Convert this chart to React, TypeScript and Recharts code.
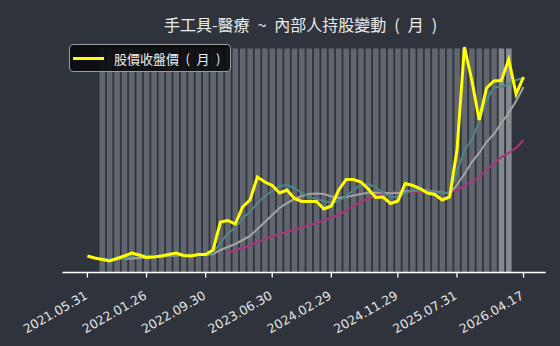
import { ComposedChart, Bar, Line, XAxis, YAxis, Cell, Legend } from 'recharts'

// month index 0 = 2021.05 ... 59 = 2026.04
const tickIdx = [0, 8, 16, 25, 33, 42, 50, 59]
const tickLabels = [
  '2021.05.31',
  '2022.01.26',
  '2022.09.30',
  '2023.06.30',
  '2024.02.29',
  '2024.11.29',
  '2025.07.31',
  '2026.04.17',
]

const closePrice = [
  8.25, 7.25, 6.5, 5.75, 7, 8.25, 9.75, 8.75, 7.5, 7.75,
  8.25, 9, 9.75, 8.5, 8.25, 9, 9, 11.25, 25.25, 26,
  24.25, 32.75, 36.25, 47.75, 45.25, 43.5, 39.75, 41.25, 37, 35.5,
  35.5, 35.5, 31.75, 33.25, 41.25, 46.5, 46.5, 45.25, 41.75, 37.5,
  37.75, 34.5, 35.75, 44.5, 43.5, 42, 39.75, 39, 36.25, 37.75,
  61.25, 112.75, 96.25, 76.25, 92.25, 95.75, 96, 106.5, 89.25, 97.75,
]

const maShort = [
  null, null, 7.25, 6.5, 6.5, 7, 8.25, 8.75, 8.5, 8,
  8, 8.5, 9, 9, 8.75, 8.6, 8.75, 9.75, 14.75, 19.75,
  22.25, 27.25, 30.25, 34.75, 38.25, 40.75, 43.25, 43.75, 42.25, 39.75,
  37.75, 36.75, 35.75, 34.75, 35.75, 38.25, 41.25, 43.75, 44.25, 42.75,
  39.75, 37.75, 37.75, 39.75, 41.25, 41.25, 40.75, 40.25, 39.75, 39.75,
  50.25, 61.25, 66.25, 75.25, 86.25, 92.75, 92.75, 94.25, 96.25, 97.25,
]

const maMid = [
  null, null, null, null, null, 6.75, 7, 7.25, 7.5, 7.75,
  8, 8.25, 8.5, 8.75, 8.75, 8.75, 8.75, 9.25, 11.25, 12.75,
  14.25, 16.25, 18.25, 21.75, 25.25, 28.75, 32.25, 34.75, 36.75, 38.25,
  39.25, 39.5, 39.25, 38, 37.25, 37.75, 38.5, 39.25, 39.85, 39.9,
  39.9, 39.6, 39.75, 40.5, 41, 41.25, 41, 40.5, 40, 39.6,
  43.75, 49.25, 55.25, 59.75, 65.25, 69.25, 74.75, 79.75, 85.75, 92.75,
]

const maLong = [
  null, null, null, null, null, null, null, null, null, null,
  null, null, null, null, null, null, null, null, null, 10,
  11, 12.25, 13.5, 15.25, 16.75, 18, 19.25, 20.25, 21.5, 22.5,
  23.6, 24.75, 26, 27.25, 29, 31, 33.25, 35.25, 37, 38.25,
  39.25, 40, 40.35, 40.4, 40.4, 40.4, 40.25, 40, 39.75, 39.75,
  41.25, 43.25, 45.25, 47.75, 51.25, 54.25, 57.75, 59.75, 62.25, 66.25,
]

const holdBars = [
  null, null, 93.3, 93.3, 93.3, 93.3, 93.3, 93.3, 93.3, 93.3,
  93.3, 93.3, 93.3, 93.3, 93.3, 93.3, 93.3, 93.3, 93.3, 93.3,
  93.3, 93.3, 93.3, 93.3, 93.3, 93.3, 93.3, 93.3, 93.3, 93.3,
  93.3, 93.3, 93.3, 93.3, 93.3, 93.3, 93.3, 93.3, 93.3, 93.3,
  93.3, 93.3, 93.3, 93.3, 93.3, 93.3, 93.3, 93.3, 93.3, 93.3,
  93.3, 93.3, 93.3, 93.3, 93.3, 93.3, 93.3, 93.3, null, null,
]

const data = closePrice.map((p, i) => ({
  i,
  price: p,
  ma3: maShort[i],
  ma6: maMid[i],
  ma20: maLong[i],
  hold: holdBars[i],
}))

const labelOf = (v: number) => tickLabels[tickIdx.indexOf(v)] ?? ''

const DateTick = ({ x, y, payload }: any) => (
  <g transform={`translate(${x + 1},${y + 18.5}) rotate(-30)`}>
    <text
      x={0}
      y={0}
      textAnchor="end"
      fill="#e4e4e4"
      fontSize={12.5}
      fontFamily="DejaVu Sans"
    >
      {labelOf(payload.value)}
    </text>
  </g>
)

const LegendBox = () => (
  <div
    style={{
      width: 162,
      height: 28,
      boxSizing: 'border-box',
      border: '1px solid #9c9c9c',
      borderRadius: 4,
      background: 'rgba(8, 9, 11, 0.88)',
      display: 'flex',
      alignItems: 'center',
    }}
  >
    <div style={{ width: 31, height: 3, background: '#ffff00', marginLeft: 3 }} />
    <span
      style={{
        marginLeft: 10,
        color: '#ececec',
        fontSize: 13,
        fontFamily: '"Noto Sans CJK TC", sans-serif',
        whiteSpace: 'pre',
      }}
    >
      {'股價收盤價\u2002(\u2002月\u2002)'}
    </span>
  </div>
)

export default function App() {
  return (
    <div
      style={{
        position: 'absolute',
        left: 0,
        top: 0,
        width: 560,
        height: 346,
        background: '#2f343c',
      }}
    >
      <div
        style={{
          position: 'absolute',
          left: 300.5,
          top: 12,
          transform: 'translateX(-50%)',
          whiteSpace: 'pre',
          color: '#ececec',
          fontSize: 16,
          fontFamily: '"Noto Sans CJK TC", sans-serif',
        }}
      >
        {'手工具-醫療\u2002~\u2002內部人持股變動\u2002(\u2002月\u2002)'}
      </div>
      <ComposedChart
        width={560}
        height={346}
        data={data}
        margin={{ top: 32.5, right: 14.3, bottom: 0, left: 62.5 }}
      >
        <XAxis
          dataKey="i"
          type="number"
          domain={[-3.37, 62]}
          allowDataOverflow
          ticks={tickIdx}
          tick={<DateTick />}
          tickSize={5}
          tickMargin={2}
          height={73.5}
          stroke="#ffffff"
          strokeWidth={1.3}
          tickLine={{ stroke: '#ffffff', strokeWidth: 1.3 }}
          interval={0}
        />
        <YAxis yAxisId="price" hide domain={[0, 120]} />
        <YAxis yAxisId="hold" hide domain={[0, 100]} />
        <Legend
          layout="horizontal"
          verticalAlign="middle"
          align="center"
          wrapperStyle={{ top: 44, left: 69, width: 162, height: 28 }}
          content={() => <LegendBox />}
        />
        <Bar
          yAxisId="hold"
          dataKey="hold"
          barSize={5.6}
          fill="#61666e"
          isAnimationActive={false}
          legendType="none"
        >
          {data.map((d) => (
            <Cell key={d.i} fill={d.i >= 56 ? '#858990' : '#61666e'} />
          ))}
        </Bar>
        <Line
          yAxisId="price"
          dataKey="ma20"
          stroke="#a8357a"
          strokeWidth={2}
          dot={false}
          isAnimationActive={false}
          legendType="none"
        />
        <Line
          yAxisId="price"
          dataKey="ma6"
          stroke="#a3a3a3"
          strokeWidth={2}
          dot={false}
          isAnimationActive={false}
          legendType="none"
        />
        <Line
          yAxisId="price"
          dataKey="ma3"
          stroke="#4f8586"
          strokeWidth={2}
          dot={false}
          isAnimationActive={false}
          legendType="none"
        />
        <Line
          yAxisId="price"
          dataKey="price"
          stroke="#ffff00"
          strokeWidth={3}
          dot={false}
          isAnimationActive={false}
        />
      </ComposedChart>
    </div>
  )
}
